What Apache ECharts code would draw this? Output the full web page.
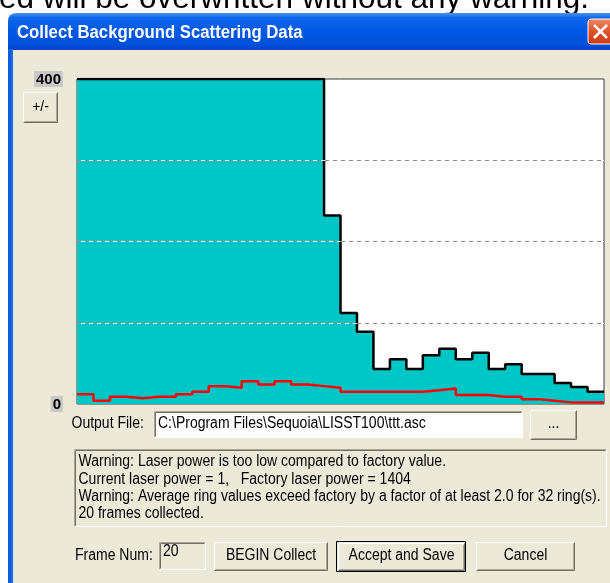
<!DOCTYPE html>
<html><head><meta charset="utf-8">
<script src="https://cdn.jsdelivr.net/npm/echarts@6/dist/echarts.min.js"></script>
<style>html,body{margin:0;padding:0;background:#fff}#c{width:610px;height:583px}</style>
</head><body><div id="c"></div>
<script>
// ---- data ----
const ringNumbers = [1,2,3,4,5,6,7,8,9,10,11,12,13,14,15,16,17,18,19,20,21,22,23,24,25,26,27,28,29,30,31,32];
// sample (black outline, cyan fill); rings 1-15 are off scale (>= 400)
const sampleValues = [400,400,400,400,400,400,400,400,400,400,400,400,400,400,400,
  232,112,89,43,55,43,60,68,55,63,43,49,37,37,26,21,15];
// factory background (red)
const backgroundValues = [12,4,9,7,9,9,12,15,22,20,28,24,28,24,22,20,15,15,15,15,15,17,19,11,11,9,9,6,4,2,2,2];
const yTickLabels = [0, 400];
const gridLineValues = [100, 200, 300];
const messageLines = [
  'Warning: Laser power is too low compared to factory value.',
  'Current laser power = 1,   Factory laser power = 1404',
  'Warning: Average ring values exceed factory by a factor of at least 2.0 for 32 ring(s).',
  '20 frames collected.'
];

function toSteps(vals) {
  const pts = vals.map((v, i) => [ringNumbers[i] - 1, v]);
  pts.push([ringNumbers[ringNumbers.length - 1], vals[vals.length - 1]]);
  return pts;
}

const UI = '16px "Liberation Sans", Arial, sans-serif';
const NARROW = 0.875;
const BG = '#ECE9D8';

function line(points, color) {
  return { type: 'polyline', shape: { points: points }, style: { stroke: color, fill: null, lineWidth: 1 }, silent: true };
}
function raised(x, y, w, h) {
  const r = x + w - 0.5, b = y + h - 0.5, l = x + 0.5, t = y + 0.5;
  return [
    { type: 'rect', shape: { x: x, y: y, width: w, height: h }, style: { fill: BG } },
    line([[l, b], [l, t], [r, t]], '#ffffff'),
    line([[l, b], [r, b], [r, t]], '#716F64'),
    line([[l + 1, b - 1], [r - 1, b - 1], [r - 1, t + 1]], '#ACA899')
  ];
}
function sunken(x, y, w, h, fill) {
  const r = x + w - 0.5, b = y + h - 0.5, l = x + 0.5, t = y + 0.5;
  return [
    { type: 'rect', shape: { x: x, y: y, width: w, height: h }, style: { fill: fill } },
    line([[l, b], [l, t], [r, t]], '#ACA899'),
    line([[l + 1, b - 1], [l + 1, t + 1], [r - 1, t + 1]], '#716F64'),
    line([[l, b], [r, b], [r, t]], '#ffffff')
  ];
}
function txt(s, x, y, font, align, sx) {
  return { type: 'text', x: x, y: y, scaleX: sx || 1, style: { text: s, font: font, fill: '#000', align: align || 'left', verticalAlign: 'middle' }, silent: true };
}

let els = [];
// white page around the window
els.push({ type: 'rect', shape: { x: 0, y: 0, width: 610, height: 14 }, style: { fill: '#fff' } });
els.push({ type: 'rect', shape: { x: 0, y: 0, width: 8, height: 583 }, style: { fill: '#fff' } });
els.push(txt('ed will be overwritten without any warning.', -1, -1, '31.5px "Liberation Sans", Arial, sans-serif', 'left'));
// title bar
els.push({ type: 'rect', shape: { x: 8, y: 13, width: 620, height: 37, r: [8, 0, 0, 0] },
  style: { fill: new echarts.graphic.LinearGradient(0, 0, 0, 1, [
    { offset: 0, color: '#4A93F5' }, { offset: 0.12, color: '#1268EB' }, { offset: 0.5, color: '#0058E6' },
    { offset: 0.88, color: '#004ED8' }, { offset: 1, color: '#0043C4' }]) } });
// left border
els.push({ type: 'rect', shape: { x: 8, y: 49, width: 5, height: 540 }, style: { fill: '#0A5AE6' } });
els.push({ type: 'rect', shape: { x: 11, y: 49, width: 2, height: 540 }, style: { fill: '#1C6CF0' } });
els.push({ type: 'text', x: 17, y: 33, scaleX: 0.93, style: { text: 'Collect Background Scattering Data', font: 'bold 18px "Liberation Sans", Arial, sans-serif',
  fill: '#fff', align: 'left', verticalAlign: 'middle', textShadowColor: '#0A2A80', textShadowOffsetX: 1, textShadowOffsetY: 1, textShadowBlur: 0 } });
// close button
els.push({ type: 'rect', shape: { x: 588, y: 19, width: 32, height: 25, r: 3 },
  style: { fill: new echarts.graphic.LinearGradient(0, 0, 0, 1, [{ offset: 0, color: '#F08A65' }, { offset: 0.5, color: '#E0502A' }, { offset: 1, color: '#C93A15' }]),
    stroke: '#fff', lineWidth: 1 } });
els.push({ type: 'line', shape: { x1: 594, y1: 25, x2: 607, y2: 38 }, style: { stroke: '#fff', lineWidth: 2.5 } });
els.push({ type: 'line', shape: { x1: 607, y1: 25, x2: 594, y2: 38 }, style: { stroke: '#fff', lineWidth: 2.5 } });
// +/- button
els = els.concat(raised(23, 92, 35, 31));
els.push(txt('+/-', 40.5, 107.5, '14px "Liberation Sans", Arial, sans-serif', 'center'));
// output file row
els.push(txt('Output File:', 71.5, 424, UI, 'left', NARROW));
els = els.concat(sunken(154, 411, 369, 27, '#ffffff'));
els.push(txt('C:\\Program Files\\Sequoia\\LISST100\\ttt.asc', 158, 424, UI, 'left', NARROW));
els = els.concat(raised(530, 410, 47, 30));
els.push(txt('...', 553.5, 424, UI, 'center', NARROW));
// message box
els = els.concat(sunken(74, 449, 533, 78, BG));
const lineY = [462, 479.5, 497, 514];
messageLines.forEach((s, i) => els.push(txt(s, 78.5, lineY[i], UI, 'left', NARROW)));
// bottom row
els.push(txt('Frame Num:', 75, 556, UI, 'left', NARROW));
els = els.concat(sunken(159, 542, 47, 28, BG));
els.push(txt('20', 163, 552, UI, 'left', NARROW));
els = els.concat(raised(214, 542, 114, 29));
els.push(txt('BEGIN Collect', 271, 556, UI, 'center', NARROW));
els.push({ type: 'rect', shape: { x: 336.5, y: 541.5, width: 129, height: 30 }, style: { fill: null, stroke: '#000', lineWidth: 1 } });
els = els.concat(raised(338, 543, 127, 28));
els.push(txt('Accept and Save', 401.5, 556, UI, 'center', NARROW));
els = els.concat(raised(476, 542, 99, 29));
els.push(txt('Cancel', 525.5, 556, UI, 'center', NARROW));

const chart = echarts.init(document.getElementById('c'), null, { renderer: 'canvas' });
chart.setOption({
  animation: false,
  backgroundColor: BG,
  graphic: { elements: els },
  grid: { left: 77, top: 79, right: 6, bottom: 179, show: true, backgroundColor: '#fff', borderColor: '#3A3A3A', borderWidth: 1 },
  xAxis: { type: 'value', min: 0, max: 32, axisLine: { show: false }, axisTick: { show: false }, axisLabel: { show: false }, splitLine: { show: false } },
  yAxis: {
    type: 'value', min: 0, max: 400, interval: 100,
    axisLine: { show: false }, axisTick: { show: false }, splitLine: { show: false },
    axisLabel: {
      margin: 14,
      formatter: v => yTickLabels.indexOf(v) >= 0 ? '{b|' + v + '}' : '',
      rich: { b: { fontSize: 15, fontWeight: 'bold', fontFamily: '"Liberation Sans", Arial, sans-serif', color: '#000',
        backgroundColor: '#C8C8C8', padding: [1, 2, 0, 2], lineHeight: 15 } }
    }
  },
  series: [
    {
      type: 'line', step: 'end', data: toSteps(sampleValues), symbol: 'none', z: 2,
      lineStyle: { color: '#000', width: 2.5 }, areaStyle: { color: '#00C6C6', opacity: 1 }
    },
    {
      type: 'line', data: [], z: 3, silent: true,
      markLine: {
        silent: true, symbol: 'none', label: { show: false }, animation: false,
        data: gridLineValues.map(v => ({ yAxis: v, lineStyle: { color: '#ffffff', type: 'solid', width: 1 } }))
          .concat(gridLineValues.map(v => ({ yAxis: v, lineStyle: { color: '#8C8C8C', type: [4, 4], width: 1 } })))
      }
    },
    {
      type: 'line', step: 'end', data: toSteps(backgroundValues), symbol: 'none', z: 4,
      lineStyle: { color: '#FF0000', width: 2.5 }
    }
  ]
});
</script></body></html>
